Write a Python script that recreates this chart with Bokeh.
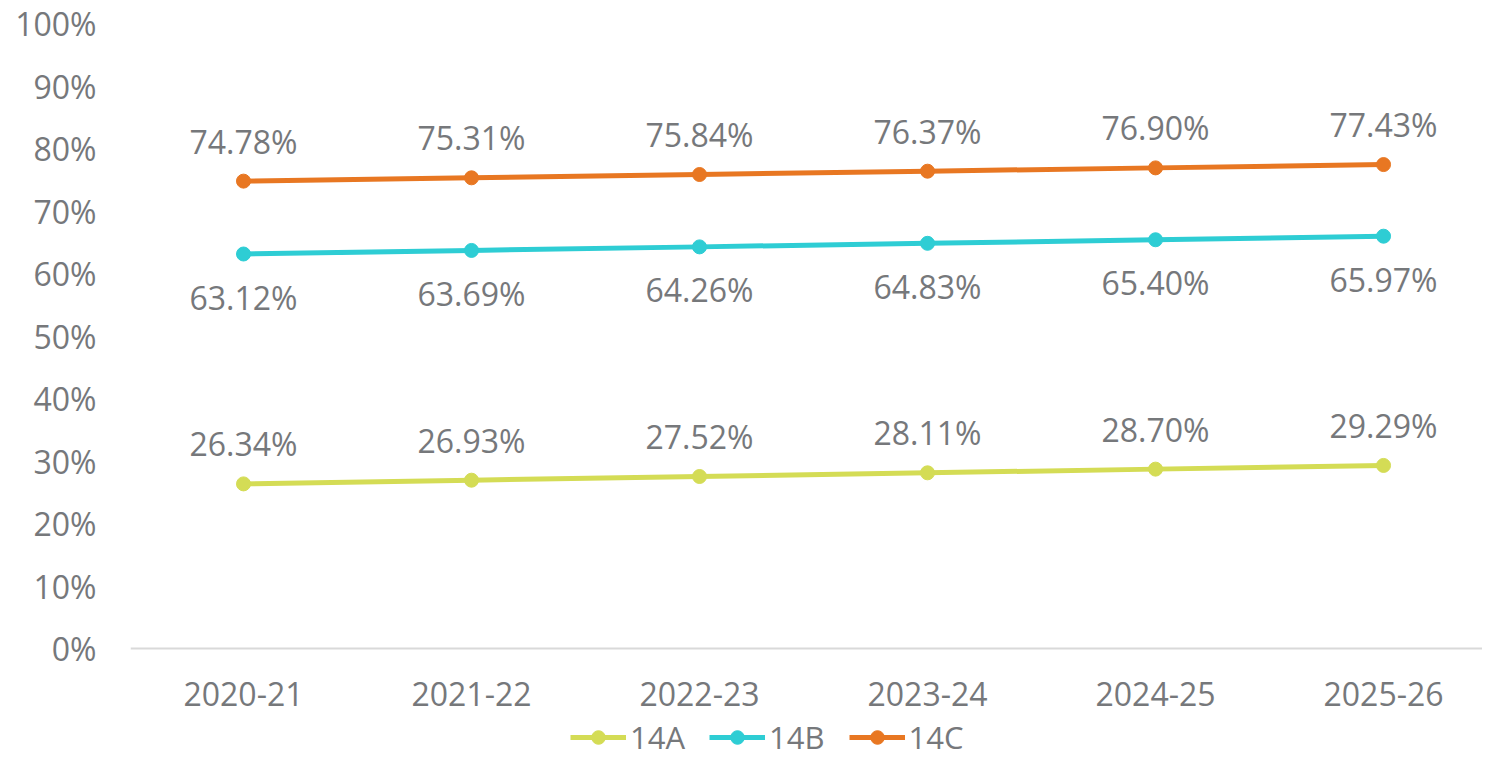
from bokeh.plotting import figure
from bokeh.models import FixedTicker, Range1d, Legend, LegendItem, ColumnDataSource, LabelSet, Span
from bokeh.core.properties import value
from bokeh.embed import file_html
from bokeh.resources import INLINE

categories = ["2020-21", "2021-22", "2022-23", "2023-24", "2024-25", "2025-26"]
s14A = [26.34, 26.93, 27.52, 28.11, 28.70, 29.29]
s14B = [63.12, 63.69, 64.26, 64.83, 65.40, 65.97]
s14C = [74.78, 75.31, 75.84, 76.37, 76.90, 77.43]
y_ticks = [0, 10, 20, 30, 40, 50, 60, 70, 80, 90, 100]

FONT = "Open Sans"
GREY = "#76787B"
FS = "32px"

p = figure(width=1482, height=758, output_backend="svg", toolbar_location=None,
           x_axis_location=None,
           x_range=Range1d(-0.4956, 5.434), y_range=Range1d(-17.6, 103.68),
           min_border_left=130, min_border_right=0, min_border_top=0, min_border_bottom=0)
p.outline_line_color = None
p.xgrid.grid_line_color = None
p.ygrid.grid_line_color = None
p.background_fill_color = "white"

# baseline at 0
p.add_layout(Span(location=0, dimension="width", line_color="#D9D9D9", line_width=2))

xs = list(range(len(categories)))
series = [("14A", s14A, "#D4DC55", 1), ("14B", s14B, "#2ECDD4", -1), ("14C", s14C, "#E87722", 1)]
items = []
for name, vals, color, side in series:
    src = ColumnDataSource(dict(x=xs, y=vals, lbl=[f"{v:.2f}%" for v in vals]))
    r1 = p.line("x", "y", source=src, line_color=color, line_width=5)
    r2 = p.scatter("x", "y", source=src, size=14, fill_color=color, line_color=color)
    items.append(LegendItem(label=name, renderers=[r1, r2]))
    labels = LabelSet(x="x", y="y", text="lbl", source=src, text_font=value(FONT),
                      text_font_size=value(FS), text_color=GREY, text_align="center",
                      text_baseline="middle", y_offset=40 if side > 0 else -43)
    p.add_layout(labels)

# category labels along the baseline
cat_src = ColumnDataSource(dict(x=xs, y=[-7.2] * len(xs), t=categories))
p.text("x", "y", text="t", source=cat_src, text_font=value(FONT), text_font_size=value(FS),
       text_color=GREY, text_align="center", text_baseline="middle")

p.yaxis.ticker = FixedTicker(ticks=y_ticks)
p.yaxis.major_label_overrides = {t: f"{t}%" for t in y_ticks}
p.yaxis.major_label_text_font = FONT
p.yaxis.major_label_text_font_size = FS
p.yaxis.major_label_text_color = GREY
p.yaxis.major_tick_line_color = None
p.yaxis.minor_tick_line_color = None
p.yaxis.axis_line_color = None
p.yaxis.major_label_standoff = 28

legend = Legend(items=items, orientation="horizontal", location=(440, 0),
                label_text_font=FONT, label_text_font_size="31px", label_text_color=GREY,
                glyph_width=56, glyph_height=34, label_standoff=4, spacing=24,
                padding=0, margin=0, border_line_color=None, background_fill_alpha=0)
p.add_layout(legend)

open("out.html", "w").write(file_html(p, INLINE))
